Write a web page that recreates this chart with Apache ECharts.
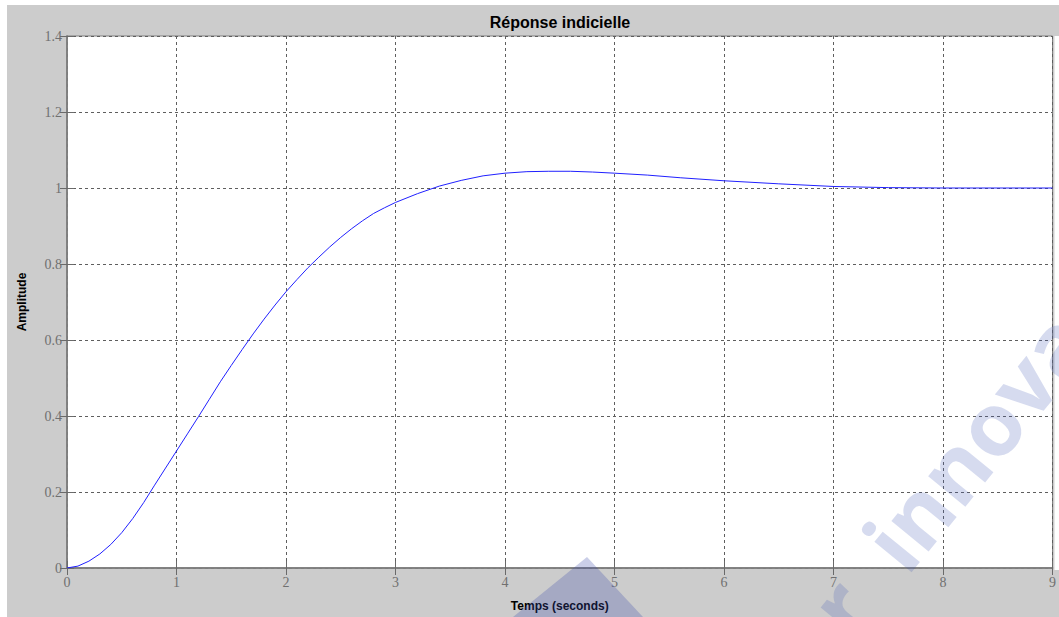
<!DOCTYPE html>
<html>
<head>
<meta charset="utf-8">
<script src="https://cdn.jsdelivr.net/npm/echarts@6/dist/echarts.min.js"></script>
<style>
html,body{margin:0;padding:0;background:#fff;width:1059px;height:617px;overflow:hidden;}
#c{position:absolute;left:7px;top:5px;width:1052px;height:612px;}
</style>
</head>
<body>
<div id="c"></div>
<script>
// Data
const titleText = "Réponse indicielle";
const xName = "Temps (seconds)";
const yName = "Amplitude";
const xTicks = [0, 1, 2, 3, 4, 5, 6, 7, 8, 9];
const yTicks = ["0", "0.2", "0.4", "0.6", "0.8", "1", "1.2", "1.4"];
const time = [0, 0.1, 0.2, 0.3, 0.4, 0.5, 0.6, 0.7, 0.8, 0.9, 1.0, 1.1, 1.2, 1.3, 1.4, 1.5,
  1.6, 1.7, 1.8, 1.9, 2.0, 2.1, 2.2, 2.3, 2.4, 2.5, 2.6, 2.7, 2.8, 2.9, 3.0, 3.2, 3.4, 3.6,
  3.8, 4.0, 4.2, 4.4, 4.6, 4.8, 5.0, 5.3, 5.6, 6.0, 6.5, 7.0, 7.5, 8.0, 9.0];
const amplitude = [0, 0.005, 0.018, 0.037, 0.062, 0.093, 0.130, 0.172, 0.218, 0.263, 0.308,
  0.353, 0.398, 0.444, 0.490, 0.533, 0.575, 0.616, 0.655, 0.692, 0.727, 0.759, 0.790, 0.818,
  0.845, 0.870, 0.893, 0.914, 0.933, 0.948, 0.962, 0.985, 1.005, 1.020, 1.032, 1.039, 1.043,
  1.044, 1.044, 1.042, 1.039, 1.034, 1.027, 1.019, 1.011, 1.004, 1.001, 1.0, 1.0];
const watermarkA = "for";
const watermarkB = "innovation";

const seriesData = time.map((t, i) => [t, amplitude[i]]);

const chart = echarts.init(document.getElementById('c'), null, {renderer: 'svg'});
const tickLabelStyle = {color: '#707070', fontFamily: 'Liberation Serif', fontSize: 14};
const gridLine = {show: true, lineStyle: {color: '#5e5e5e', type: [3, 3], width: 1}};
const axisLine = {show: true, lineStyle: {color: '#7f7f7f', width: 1.5}};
const tick = {show: true, inside: true, length: 7, lineStyle: {color: '#6a6a6a'}};
const wmFill = 'rgba(70,90,180,0.22)';
const wmFont = 'bold 88px "Open Sans"';

chart.setOption({
  backgroundColor: '#cccccc',
  animation: false,
  grid: {left: 60, top: 31, right: 5, bottom: 47.5, show: true, backgroundColor: '#ffffff', borderColor: '#7f7f7f', borderWidth: 1},
  xAxis: [{
    type: 'value', min: 0, max: 9, interval: 1,
    name: xName, nameLocation: 'middle', nameGap: 32,
    nameTextStyle: {color: '#000', fontFamily: 'Liberation Sans', fontWeight: 'bold', fontSize: 12},
    axisLine: axisLine, axisTick: tick, splitLine: gridLine,
    axisLabel: Object.assign({margin: 7, formatter: v => String(xTicks[Math.round(v)])}, tickLabelStyle)
  }, {
    type: 'value', min: 0, max: 9, interval: 1, position: 'top',
    axisLine: axisLine, axisTick: tick, splitLine: {show: false}, axisLabel: {show: false}
  }],
  yAxis: [{
    type: 'value', min: 0, max: 1.4, interval: 0.2,
    name: yName, nameLocation: 'middle', nameGap: 39, nameRotate: 90,
    nameTextStyle: {color: '#000', fontFamily: 'Liberation Sans', fontWeight: 'bold', fontSize: 12},
    axisLine: axisLine, axisTick: tick, splitLine: gridLine,
    axisLabel: Object.assign({margin: 5, formatter: v => yTicks[Math.round(v / 0.2)]}, tickLabelStyle)
  }, {
    type: 'value', min: 0, max: 1.4, interval: 0.2, position: 'right',
    axisLine: axisLine, axisTick: tick, splitLine: {show: false}, axisLabel: {show: false}
  }],
  graphic: [
    {type: 'text', x: 553, y: 17, z: 10,
      style: {text: titleText, textAlign: 'center', textVerticalAlign: 'middle', fill: '#000',
        font: 'bold 16px "Liberation Sans"'}},
    {type: 'rect', shape: {x: 1047.5, y: 31, width: 6, height: 534}, style: {fill: '#ffffff'}, z: 5},
    {type: 'polygon', shape: {points: [[506, 612], [580, 552], [636, 612]]},
      style: {fill: 'rgba(60,75,170,0.27)'}, z: 50, silent: true},
    {type: 'text', x: 874, y: 551, rotation: 0.885, z: 50, silent: true,
      style: {text: watermarkB, textAlign: 'left', textVerticalAlign: 'middle', fill: wmFill, font: wmFont}},
    {type: 'text', x: 874, y: 551, rotation: 0.885, z: 50, silent: true,
      style: {text: watermarkA, x: -45, textAlign: 'right', textVerticalAlign: 'middle', fill: wmFill, font: wmFont}}
  ],
  series: [{
    type: 'line', data: seriesData, showSymbol: false, smooth: false,
    lineStyle: {color: '#2020ff', width: 1}, z: 20
  }]
});
</script>
</body>
</html>
